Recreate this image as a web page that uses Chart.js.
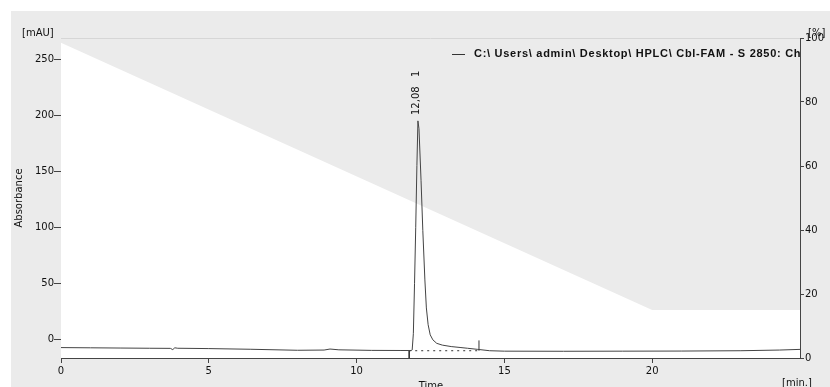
<!DOCTYPE html>
<html>
<head>
<meta charset="utf-8">
<script src="https://cdn.jsdelivr.net/npm/chart.js@4.4.1/dist/chart.umd.min.js"></script>
<style>
html, body { margin: 0; padding: 0; background: #fff; }
#wrap { width: 830px; height: 387px; }
</style>
</head>
<body>
<div id="wrap"><canvas id="grafica" width="830" height="387"></canvas></div>
<script>
// ===============================
// DATOS
// ===============================
// Cromatograma (min, mAU)
const tiempo = [0, 1, 2, 3, 3.7, 3.78, 3.85, 3.95, 5, 6.4, 8, 8.9, 9.1, 9.4, 10.5, 11.5, 11.85,
    11.88, 11.92, 11.96, 12.0, 12.04, 12.075, 12.11, 12.18, 12.24, 12.31, 12.36, 12.42, 12.49,
    12.58, 12.71, 12.9, 13.2, 13.5, 13.75, 14.1, 14.5, 15, 17, 19, 21, 23, 24.3, 25];
const absorbancia = [-7.4, -7.6, -7.8, -8.0, -8.1, -9.2, -7.6, -8.0, -8.3, -8.9, -9.8, -9.6, -8.7, -9.4, -9.9, -10.0, -10.0,
    -9.5, 5, 50, 100, 155, 195, 188, 142, 97, 53, 28, 13, 4,
    -0.5, -3.6, -5.2, -6.5, -7.3, -8.0, -9.0, -10.2, -10.6, -10.7, -10.6, -10.5, -10.2, -9.6, -9.0];

// Gradiente (% B)
const gradTiempo = [0, 20, 25];
const gradB = [98.5, 15, 15];

// Integración del pico
const lineaBaseTiempo = [11.78, 14.14];
const lineaBaseValor = [-10.2, -10.2];
const marcaInicio = [-10.2, -16.7];
const marcaFin = [-10.2, -1];

// Etiquetas del pico
const picoTiempo = 12.08;
const picoTexto = "12,08";
const picoNumero = "1";

// Ticks
const ticksX = [0, 5, 10, 15, 20];
const ticksY = [0, 50, 100, 150, 200, 250];
const ticksB = [0, 20, 40, 60, 80, 100];

const leyenda = "C:\\ Users\\ admin\\ Desktop\\ HPLC\\ Cbl-FAM - S 2850: Chromatogram";

const pares = (xs, ys) => xs.map((x, i) => ({ x: x, y: ys[i] }));
const fuente = "DejaVu Sans";
const gris = "#ebebeb";

// ===============================
// PLUGINS
// ===============================
const fondo = {
    id: "fondo",
    beforeDraw(chart) {
        const { ctx, chartArea: a } = chart;
        ctx.save();
        ctx.fillStyle = "#fff";
        ctx.fillRect(0, 0, chart.width, chart.height);
        ctx.fillStyle = gris;
        ctx.fillRect(11, 11, chart.width - 11, chart.height - 11);
        ctx.strokeStyle = "#d6d6d6";
        ctx.lineWidth = 1;
        ctx.beginPath();
        ctx.moveTo(a.left, a.top + 0.5);
        ctx.lineTo(a.right, a.top + 0.5);
        ctx.stroke();
        ctx.restore();
    }
};

const textos = {
    id: "textos",
    afterDraw(chart) {
        const { ctx, chartArea: a, scales } = chart;
        ctx.save();
        ctx.fillStyle = "#111";
        ctx.font = "10px '" + fuente + "'";
        ctx.textBaseline = "middle";

        ctx.textAlign = "left";
        ctx.fillText("[mAU]", 22, 33);
        ctx.fillText("[%]", 808, 33);
        ctx.textAlign = "center";
        ctx.fillText("Time", 431, 386);
        ctx.fillText("[min.]", 797, 383);

        // Absorbance
        ctx.save();
        ctx.translate(19, 198);
        ctx.rotate(-Math.PI / 2);
        ctx.fillText("Absorbance", 0, 0);
        ctx.restore();

        // pico
        const px = scales.x.getPixelForValue(picoTiempo) - 2;
        ctx.save();
        ctx.translate(px, 115);
        ctx.rotate(-Math.PI / 2);
        ctx.textAlign = "left";
        ctx.fillText(picoTexto, 0, 0);
        ctx.fillText(picoNumero, 38, 0);
        ctx.restore();

        // leyenda
        ctx.save();
        ctx.beginPath();
        ctx.rect(a.left, a.top, a.right - a.left, a.bottom - a.top);
        ctx.clip();
        ctx.strokeStyle = "#333";
        ctx.lineWidth = 1;
        ctx.beginPath();
        ctx.moveTo(452, 54.5);
        ctx.lineTo(465, 54.5);
        ctx.stroke();
        ctx.font = "bold 11px 'Liberation Sans'";
        ctx.letterSpacing = "0.72px";
        ctx.textAlign = "left";
        ctx.fillStyle = "#111";
        ctx.fillText(leyenda, 474, 54);
        ctx.restore();

        ctx.restore();
    }
};

// ===============================
// GRÁFICA
// ===============================
const ctx = document.getElementById("grafica").getContext("2d");

const grafica = new Chart(ctx, {
    type: "line",
    data: {
        datasets: [
            {
                data: pares(tiempo, absorbancia),
                borderColor: "#444",
                borderWidth: 1,
                pointRadius: 0,
                yAxisID: "y",
                order: 0
            },
            {
                data: pares(lineaBaseTiempo, lineaBaseValor),
                borderColor: "#333",
                borderWidth: 1,
                borderDash: [2, 4],
                pointRadius: 0,
                yAxisID: "y",
                order: 1
            },
            {
                data: pares([lineaBaseTiempo[0], lineaBaseTiempo[0]], marcaInicio),
                borderColor: "#333",
                borderWidth: 1,
                pointRadius: 0,
                yAxisID: "y",
                order: 1
            },
            {
                data: pares([lineaBaseTiempo[1], lineaBaseTiempo[1]], marcaFin),
                borderColor: "#333",
                borderWidth: 1,
                pointRadius: 0,
                yAxisID: "y",
                order: 1
            },
            {
                data: pares(gradTiempo, gradB),
                borderColor: "rgba(0,0,0,0)",
                borderWidth: 0,
                backgroundColor: "#fff",
                fill: "origin",
                pointRadius: 0,
                yAxisID: "y2",
                order: 10
            }
        ]
    },
    options: {
        responsive: false,
        animation: false,
        devicePixelRatio: 1,
        layout: { padding: { top: 38, left: 0, right: 0, bottom: 0 } },
        plugins: {
            legend: { display: false },
            tooltip: { enabled: false }
        },
        scales: {
            x: {
                type: "linear",
                min: 0,
                max: 25,
                afterBuildTicks: s => { s.ticks = ticksX.map(v => ({ value: v })); },
                afterFit: s => { s.height = 29; },
                grid: { drawOnChartArea: false, drawTicks: true, tickLength: 5, color: "#444" },
                border: { display: true, color: "#444" },
                ticks: { color: "#111", font: { family: fuente, size: 10 }, padding: 2, maxRotation: 0, autoSkip: false }
            },
            y: {
                type: "linear",
                position: "left",
                min: -16.7,
                max: 269,
                afterBuildTicks: s => { s.ticks = ticksY.map(v => ({ value: v })); },
                afterFit: s => { s.width = 61; },
                grid: { drawOnChartArea: false, drawTicks: true, tickLength: 7, color: "#444" },
                border: { display: false },
                ticks: { color: "#111", font: { family: fuente, size: 10 }, padding: 0 }
            },
            y2: {
                type: "linear",
                position: "right",
                min: 0,
                max: 100,
                afterBuildTicks: s => { s.ticks = ticksB.map(v => ({ value: v })); },
                afterFit: s => { s.width = 30; },
                grid: { drawOnChartArea: false, drawTicks: true, tickLength: 4, color: "#444" },
                border: { display: true, color: "#444" },
                ticks: { color: "#111", font: { family: fuente, size: 10 }, padding: 1 }
            }
        }
    },
    plugins: [fondo, textos]
});
</script>
</body>
</html>
